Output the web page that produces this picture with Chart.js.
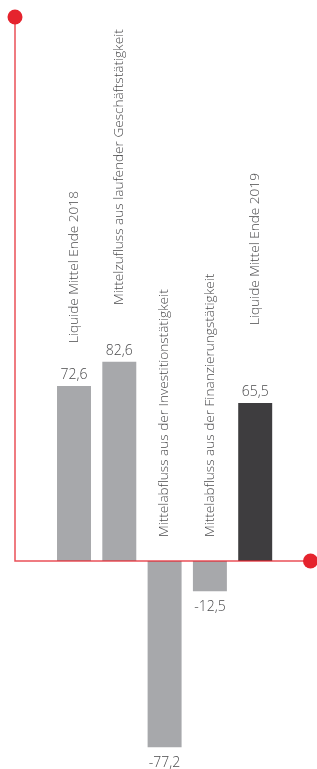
<!DOCTYPE html>
<html>
<head>
<meta charset="utf-8">
<script src="https://cdn.jsdelivr.net/npm/chart.js@4/dist/chart.umd.min.js"></script>
<style>
  html, body { margin: 0; padding: 0; background: #fff; }
  #wrap { width: 317px; height: 769px; }
</style>
</head>
<body>
<div id="wrap"><canvas id="cashflow" width="317" height="769"></canvas></div>
<script>
// Kapitalfluss 2019 (Mio. EUR)
const categories = [
  'Liquide Mittel Ende 2018',
  'Mittelzufluss aus laufender Geschäftstätigkeit',
  'Mittelabfluss aus der Investitionstätigkeit',
  'Mittelabfluss aus der Finanzierungstätigkeit',
  'Liquide Mittel Ende 2019',
];
const values = [72.6, 82.6, -77.2, -12.5, 65.5];
const valueLabels = ['72,6', '82,6', '-77,2', '-12,5', '65,5'];

const GREY = '#a7a8ab';
const DARK = '#3e3d3f';
const RED = '#e5232d';
const TEXT = '#4a4a4c';

// where each rotated caption starts, measured up from the zero line
const captionLift = [218, 256, 24, 24, 236];

const decorPlugin = {
  id: 'decor',
  afterDatasetsDraw(chart) {
    const { ctx, scales } = chart;
    const y0 = scales.y.getPixelForValue(0);
    const bars = chart.getDatasetMeta(0).data;

    ctx.save();
    // axes
    ctx.strokeStyle = RED;
    ctx.globalAlpha = 0.8;
    ctx.lineWidth = 1.5;
    ctx.beginPath();
    ctx.moveTo(15, 17);
    ctx.lineTo(15, y0);
    ctx.lineTo(310.5, y0);
    ctx.stroke();
    ctx.globalAlpha = 1;
    ctx.fillStyle = RED;
    ctx.beginPath();
    ctx.arc(15, 17, 7.5, 0, Math.PI * 2);
    ctx.fill();
    ctx.beginPath();
    ctx.arc(310.5, y0, 7.5, 0, Math.PI * 2);
    ctx.fill();

    // value labels
    ctx.fillStyle = TEXT;
    ctx.font = '300 14px "Open Sans"';
    ctx.textAlign = 'center';
    ctx.textBaseline = 'alphabetic';
    bars.forEach((bar, i) => {
      const y = values[i] >= 0 ? bar.y - 7 : bar.y + 20;
      ctx.fillText(valueLabels[i], bar.x, y);
    });

    // rotated captions
    ctx.font = '300 13.6px "Open Sans"';
    ctx.textAlign = 'left';
    ctx.textBaseline = 'middle';
    bars.forEach((bar, i) => {
      ctx.save();
      ctx.translate(bar.x, y0 - captionLift[i]);
      ctx.rotate(-Math.PI / 2);
      ctx.fillText(categories[i], 0, 0);
      ctx.restore();
    });
    ctx.restore();
  },
};

new Chart(document.getElementById('cashflow'), {
  type: 'bar',
  data: {
    labels: categories,
    datasets: [{
      data: values,
      backgroundColor: values.map((v, i) => (i === values.length - 1 ? DARK : GREY)),
      borderWidth: 0,
      categoryPercentage: 1,
      barPercentage: 0.75,
    }],
  },
  options: {
    responsive: false,
    devicePixelRatio: 1,
    animation: false,
    layout: { padding: { top: 344, bottom: 15, left: 51.35, right: 39.15 } },
    plugins: { legend: { display: false }, tooltip: { enabled: false } },
    scales: {
      x: { display: false },
      y: { display: false, min: -80, max: 90 },
    },
  },
  plugins: [decorPlugin],
});
</script>
</body>
</html>
